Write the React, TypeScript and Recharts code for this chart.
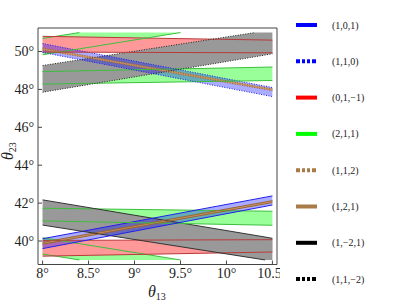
import React from 'react';
import { ComposedChart, Area, Line, XAxis, YAxis, ReferenceArea } from 'recharts';

// ---------- data ----------
const X_TICKS = [8, 8.5, 9, 9.5, 10, 10.5];
const Y_TICKS = [40, 42, 44, 46, 48, 50];
const X_DOMAIN = [7.95, 10.55];
const Y_DOMAIN = [38.76, 51.24];

type Pt = { x: number; lo: number; hi: number; clipLo?: boolean; clipHi?: boolean };

// (2,1,1) green regions
const greenTopTri: Pt[] = [
  { x: 8, lo: 49.83, hi: 50.69 },
  { x: 8.4, lo: 50.14, hi: 51.0 },
  { x: 9.5, lo: 51.0, hi: 51.0, clipHi: true },
];
const greenUpper: Pt[] = [
  { x: 8, lo: 48.28, hi: 48.94 },
  { x: 10.5, lo: 48.47, hi: 49.18 },
];
const greenLower: Pt[] = [
  { x: 8, lo: 41.06, hi: 41.73 },
  { x: 10.5, lo: 40.83, hi: 41.57 },
];
const greenBotTri: Pt[] = [
  { x: 8, lo: 39.31, hi: 40.17 },
  { x: 8.4, lo: 39.0, hi: 39.86 },
  { x: 9.5, lo: 39.0, hi: 39.0, clipLo: true },
];
// (0,1,-1) red regions
const redUpper: Pt[] = [
  { x: 8, lo: 49.97, hi: 50.8 },
  { x: 10.5, lo: 49.93, hi: 50.6 },
];
const redLower: Pt[] = [
  { x: 8, lo: 39.2, hi: 40.03 },
  { x: 10.5, lo: 39.42, hi: 40.07 },
];
// (1,1,-2) and (1,-2,1) gray regions
const grayUpper: Pt[] = [
  { x: 8, lo: 47.85, hi: 49.26 },
  { x: 10.31, lo: 49.72, hi: 51.0 },
  { x: 10.5, lo: 49.88, hi: 51.0, clipHi: true },
];
const grayLower: Pt[] = [
  { x: 8, lo: 40.84, hi: 42.17 },
  { x: 10.42, lo: 39.0, hi: 40.21 },
  { x: 10.5, lo: 39.0, hi: 40.14, clipLo: true },
];
// (1,1,0) and (1,0,1) blue regions
const blueUpper: Pt[] = [
  { x: 8, lo: 49.95, hi: 50.42 },
  { x: 10.5, lo: 47.62, hi: 48.1 },
];
const blueLower: Pt[] = [
  { x: 8, lo: 39.6, hi: 40.12 },
  { x: 10.5, lo: 41.9, hi: 42.38 },
];
// (1,1,2) and (1,2,1) brown regions
const brownUpper: Pt[] = [
  { x: 8, lo: 50.08, hi: 50.18 },
  { x: 10.5, lo: 47.93, hi: 48.03 },
];
const brownLower: Pt[] = [
  { x: 8, lo: 39.83, hi: 39.93 },
  { x: 10.5, lo: 42.03, hi: 42.13 },
];

const LEGEND_LABELS = ['(1,0,1)', '(1,1,0)', '(0,1,\u22121)', '(2,1,1)', '(1,1,2)', '(1,2,1)', '(1,\u22122,1)', '(1,1,\u22122)'];

// ---------- styles ----------
const SERIF = "Liberation Serif, Times New Roman, DejaVu Serif, serif";
const GREEN_FILL = { fill: '#00ff00', fillOpacity: 0.4 };
const RED_FILL = { fill: '#ff9999', fillOpacity: 1 };
const GRAY_FILL = { fill: '#999999', fillOpacity: 1 };
const BLUE_FILL = { fill: '#0000ff', fillOpacity: 0.33 };
const BROWN_FILL = { fill: '#d09050', fillOpacity: 0.85 };

const bands = [
  { data: greenTopTri, style: GREEN_FILL, edge: '#3cbf3c', dash: undefined as string | undefined },
  { data: greenBotTri, style: GREEN_FILL, edge: '#3cbf3c', dash: undefined },
  { data: greenUpper, style: GREEN_FILL, edge: '#3cbf3c', dash: undefined },
  { data: greenLower, style: GREEN_FILL, edge: '#3cbf3c', dash: undefined },
  { data: redUpper, style: RED_FILL, edge: '#b83a3a', dash: undefined },
  { data: redLower, style: RED_FILL, edge: '#b83a3a', dash: undefined },
  { data: grayUpper, style: GRAY_FILL, edge: '#222222', dash: '1 1.5' },
  { data: grayLower, style: GRAY_FILL, edge: '#333333', dash: undefined },
  { data: blueUpper, style: BLUE_FILL, edge: '#2020ee', dash: '1 1.5' },
  { data: blueLower, style: BLUE_FILL, edge: '#2020ee', dash: undefined },
  { data: brownUpper, style: BROWN_FILL, edge: '#996633', dash: '1 1.5' },
  { data: brownLower, style: BROWN_FILL, edge: '#996633', dash: undefined },
];

const LEGEND_STYLE = [
  { color: '#0000ff', dash: undefined as string | undefined },
  { color: '#0000ff', dash: '4 2 3 2 3 2' },
  { color: '#ff0000', dash: undefined },
  { color: '#00ff00', dash: undefined },
  { color: '#a87a48', dash: '4 2 3 2 3 2' },
  { color: '#a87a48', dash: undefined },
  { color: '#000000', dash: undefined },
  { color: '#000000', dash: '4 2 3 2 3 2' },
];

const rangeKey = (d: Pt) => [d.lo, d.hi];
const hiKey = (d: Pt) => (d.clipHi ? null : d.hi);
const loKey = (d: Pt) => (d.clipLo ? null : d.lo);
const deg = (v: number) => `${v}\u00b0`;

const XTick = (props: any) => {
  const { x, y, payload } = props;
  return (
    <text x={x} y={y} dy="0.71em" textAnchor="middle" fontSize={14} fill="#222" fontFamily={SERIF}>
      {deg(payload.value)}
    </text>
  );
};
const YTick = (props: any) => {
  const { x, y, payload } = props;
  return (
    <text x={x} y={y} dy="0.355em" textAnchor="end" fontSize={14} fill="#222" fontFamily={SERIF}>
      {deg(payload.value)}
    </text>
  );
};

export default function App() {
  return (
    <div style={{ position: 'absolute', left: 0, top: 0, width: 399, height: 304, background: '#fff' }}>
      <div style={{ position: 'absolute', left: 0, top: 0, width: 280, height: 304, overflow: 'hidden' }}>
        <ComposedChart width={280} height={304} margin={{ top: 28, right: 3, bottom: 0, left: 0 }}>
          <XAxis
            dataKey="x"
            type="number"
            domain={X_DOMAIN}
            allowDataOverflow
            ticks={X_TICKS}
            height={39.5}
            axisLine={false}
            tickSize={-4}
            tickMargin={8}
            tickLine={{ stroke: '#444' }}
            tick={XTick}
            interval={0}
          />
          <YAxis
            type="number"
            domain={Y_DOMAIN}
            allowDataOverflow
            ticks={Y_TICKS}
            width={38}
            axisLine={false}
            tickSize={-4}
            tickMargin={8}
            tickLine={{ stroke: '#444' }}
            tick={YTick}
            interval={0}
          />
          {bands.map((b, i) => (
            <Area
              key={`f${i}`}
              data={b.data}
              dataKey={rangeKey}
              type="linear"
              stroke="none"
              fill={b.style.fill}
              fillOpacity={b.style.fillOpacity}
              dot={false}
              activeDot={false}
              isAnimationActive={false}
            />
          ))}
          {bands.map((b, i) => (
            <Line
              key={`h${i}`}
              data={b.data}
              dataKey={hiKey}
              type="linear"
              stroke={b.edge}
              strokeWidth={1}
              strokeDasharray={b.dash}
              dot={false}
              activeDot={false}
              isAnimationActive={false}
            />
          ))}
          {bands.map((b, i) => (
            <Line
              key={`l${i}`}
              data={b.data}
              dataKey={loKey}
              type="linear"
              stroke={b.edge}
              strokeWidth={1}
              strokeDasharray={b.dash}
              dot={false}
              activeDot={false}
              isAnimationActive={false}
            />
          ))}
          <ReferenceArea
            x1={X_DOMAIN[0]}
            x2={X_DOMAIN[1]}
            y1={Y_DOMAIN[0]}
            y2={Y_DOMAIN[1]}
            fill="none"
            stroke="#444"
            strokeWidth={1}
            ifOverflow="visible"
          />
        </ComposedChart>
      </div>
      <svg
        width={399}
        height={304}
        style={{ position: 'absolute', left: 0, top: 0, pointerEvents: 'none' }}
        fontFamily={SERIF}
      >
        <text transform="translate(13,160) rotate(-90)" fontSize={16} fill="#222">
          <tspan fontStyle="italic">θ</tspan>
          <tspan fontSize={10} dy={3}>23</tspan>
        </text>
        <text x={148} y={297} fontSize={16} fill="#222">
          <tspan fontStyle="italic">θ</tspan>
          <tspan fontSize={10} dy={3}>13</tspan>
        </text>
        {LEGEND_LABELS.map((lab, i) => {
          const cy = 25 + i * 36.3;
          const s = LEGEND_STYLE[i];
          return (
            <g key={lab}>
              <line x1={296} x2={317} y1={cy} y2={cy} stroke={s.color} strokeWidth={4} strokeDasharray={s.dash} />
              <text x={332} y={cy + 3.5} fontSize={10} fill="#222">
                {lab}
              </text>
            </g>
          );
        })}
      </svg>
    </div>
  );
}
